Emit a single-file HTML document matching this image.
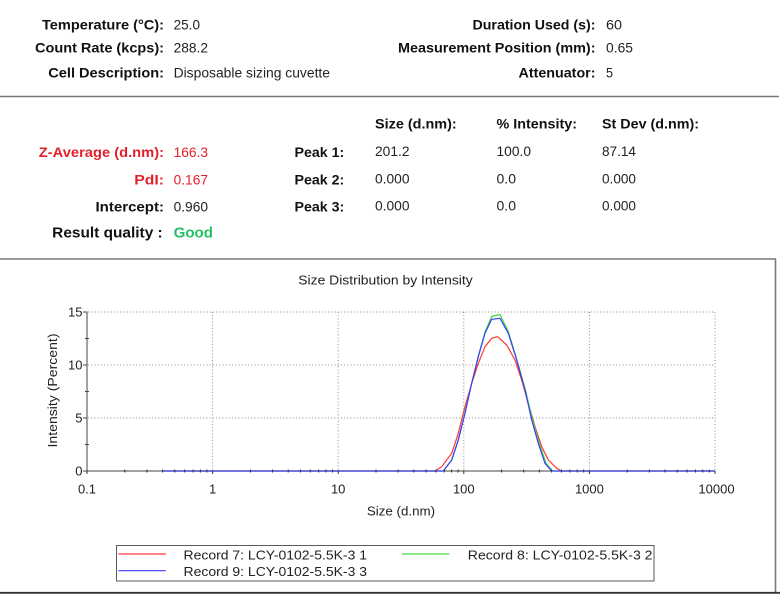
<!DOCTYPE html>
<html>
<head>
<meta charset="utf-8">
<style>
html,body{margin:0;padding:0;background:#fff;}
svg{display:block;}
text{font-family:"Liberation Sans",Arial,sans-serif;}
.b{font-weight:bold;fill:#111;font-size:13.5px;}
.v{fill:#222;font-size:13.5px;}
.r{fill:#e3202a;}
.t{fill:#222;font-size:12.5px;}
</style>
</head>
<body>
<svg width="780" height="594" viewBox="0 0 780 594" xmlns="http://www.w3.org/2000/svg">
<rect x="0" y="0" width="780" height="594" fill="#fff"/>

<!-- Header block -->
<text class="b" x="164" y="29.3" text-anchor="end" textLength="122" lengthAdjust="spacingAndGlyphs">Temperature (°C):</text>
<text class="v" x="173.6" y="29.3" textLength="26.4" lengthAdjust="spacingAndGlyphs">25.0</text>
<text class="b" x="595.5" y="29.3" text-anchor="end" textLength="123" lengthAdjust="spacingAndGlyphs">Duration Used (s):</text>
<text class="v" x="606" y="29.3" textLength="16" lengthAdjust="spacingAndGlyphs">60</text>

<text class="b" x="164" y="52.7" text-anchor="end" textLength="129" lengthAdjust="spacingAndGlyphs">Count Rate (kcps):</text>
<text class="v" x="173.6" y="52.7" textLength="34.4" lengthAdjust="spacingAndGlyphs">288.2</text>
<text class="b" x="595.5" y="52.7" text-anchor="end" textLength="197.5" lengthAdjust="spacingAndGlyphs">Measurement Position (mm):</text>
<text class="v" x="606" y="52.7" textLength="27" lengthAdjust="spacingAndGlyphs">0.65</text>

<text class="b" x="164" y="77.3" text-anchor="end" textLength="115.7" lengthAdjust="spacingAndGlyphs">Cell Description:</text>
<text class="v" x="173.6" y="77.3" textLength="156.4" lengthAdjust="spacingAndGlyphs">Disposable sizing cuvette</text>
<text class="b" x="595.5" y="77.3" text-anchor="end" textLength="77" lengthAdjust="spacingAndGlyphs">Attenuator:</text>
<text class="v" x="606" y="77.3" textLength="7" lengthAdjust="spacingAndGlyphs">5</text>

<line x1="0" y1="96.5" x2="779" y2="96.5" stroke="#7a7a7a" stroke-width="1.6"/>

<!-- Results block -->
<text class="b" x="375" y="128.3" textLength="81.7" lengthAdjust="spacingAndGlyphs">Size (d.nm):</text>
<text class="b" x="496.5" y="128.3" textLength="80.5" lengthAdjust="spacingAndGlyphs">% Intensity:</text>
<text class="b" x="602" y="128.3" textLength="97" lengthAdjust="spacingAndGlyphs">St Dev (d.nm):</text>

<text class="b r" x="164" y="157" text-anchor="end" textLength="125.2" lengthAdjust="spacingAndGlyphs" style="fill:#e3202a">Z-Average (d.nm):</text>
<text class="v r" x="173.6" y="157" textLength="34.4" lengthAdjust="spacingAndGlyphs" style="fill:#e3202a">166.3</text>
<text class="b" x="344.3" y="157" text-anchor="end" textLength="49.8" lengthAdjust="spacingAndGlyphs">Peak 1:</text>
<text class="v" x="375" y="156" textLength="34.5" lengthAdjust="spacingAndGlyphs">201.2</text>
<text class="v" x="496.5" y="156" textLength="34.5" lengthAdjust="spacingAndGlyphs">100.0</text>
<text class="v" x="602" y="156" textLength="34" lengthAdjust="spacingAndGlyphs">87.14</text>

<text class="b" x="164" y="184.3" text-anchor="end" textLength="29.7" lengthAdjust="spacingAndGlyphs" style="fill:#e3202a">PdI:</text>
<text class="v" x="173.6" y="184.3" textLength="34.4" lengthAdjust="spacingAndGlyphs" style="fill:#e3202a">0.167</text>
<text class="b" x="344.3" y="184.3" text-anchor="end" textLength="49.8" lengthAdjust="spacingAndGlyphs">Peak 2:</text>
<text class="v" x="375" y="183.5" textLength="34.5" lengthAdjust="spacingAndGlyphs">0.000</text>
<text class="v" x="496.5" y="183.5" textLength="19.5" lengthAdjust="spacingAndGlyphs">0.0</text>
<text class="v" x="602" y="183.5" textLength="34" lengthAdjust="spacingAndGlyphs">0.000</text>

<text class="b" x="164" y="211.7" text-anchor="end" textLength="68.5" lengthAdjust="spacingAndGlyphs">Intercept:</text>
<text class="v" x="173.6" y="211.7" textLength="34.4" lengthAdjust="spacingAndGlyphs">0.960</text>
<text class="b" x="344.3" y="211.7" text-anchor="end" textLength="49.8" lengthAdjust="spacingAndGlyphs">Peak 3:</text>
<text class="v" x="375" y="210.5" textLength="34.5" lengthAdjust="spacingAndGlyphs">0.000</text>
<text class="v" x="496.5" y="210.5" textLength="19.5" lengthAdjust="spacingAndGlyphs">0.0</text>
<text class="v" x="602" y="210.5" textLength="34" lengthAdjust="spacingAndGlyphs">0.000</text>

<text x="162.7" y="237.5" text-anchor="end" textLength="110.5" lengthAdjust="spacingAndGlyphs" style="font-weight:bold;font-size:15px;fill:#111">Result quality :</text>
<text x="173.6" y="237.5" textLength="39.4" lengthAdjust="spacingAndGlyphs" style="font-weight:bold;font-size:15px;fill:#22c162">Good</text>

<line x1="0" y1="259" x2="776" y2="259" stroke="#7a7a7a" stroke-width="1.6"/>
<line x1="775.5" y1="259" x2="775.5" y2="593" stroke="#7a7a7a" stroke-width="1.6"/>
<line x1="0" y1="592.8" x2="780" y2="592.8" stroke="#333" stroke-width="1.8"/>

<!-- Chart -->
<text class="t" x="298.3" y="284.3" textLength="174.4" lengthAdjust="spacingAndGlyphs" style="font-size:13px">Size Distribution by Intensity</text>

<!-- grid -->
<g stroke="#8a8a8a" stroke-width="1" stroke-dasharray="1 2.2" fill="none">
  <line x1="88" y1="312" x2="715" y2="312"/>
  <line x1="88" y1="365" x2="715" y2="365"/>
  <line x1="88" y1="418" x2="715" y2="418"/>
  <line x1="212.6" y1="312" x2="212.6" y2="470"/>
  <line x1="338.2" y1="312" x2="338.2" y2="470"/>
  <line x1="463.8" y1="312" x2="463.8" y2="470"/>
  <line x1="589.4" y1="312" x2="589.4" y2="470"/>
  <line x1="715" y1="312" x2="715" y2="470"/>
</g>

<!-- axes -->
<g stroke="#444" stroke-width="1">
  <line x1="87" y1="311.5" x2="87" y2="471.5"/>
  <line x1="83" y1="471" x2="715" y2="471"/>
  <line x1="83" y1="312" x2="87" y2="312"/>
  <line x1="83" y1="365" x2="87" y2="365"/>
  <line x1="83" y1="418" x2="87" y2="418"/>
  <line x1="85" y1="444.5" x2="89" y2="444.5"/>
  <line x1="85" y1="391.5" x2="89" y2="391.5"/>
  <line x1="85" y1="338.5" x2="89" y2="338.5"/>
</g>

<!-- curves -->
<g fill="none" stroke-width="1.2" stroke-linejoin="round">
<polyline stroke="#ff3636" points="162.6,471 435,471 441.7,466.7 451.7,453.3 458.3,433.3 465,406.7 471.7,383.3 478.3,363.3 485,346.7 491.7,338.3 497.7,336.7 506.7,345 515,360 521.7,380 528.3,403.3 535,426.7 541.7,446.7 548.3,460 556.7,468.3 561.7,471 715,471"/>
<polyline stroke="#3ddc3d" points="162.6,471 443.3,471 451.7,460 458.3,440 465,413 471.7,383 478.3,356 485,332 491.7,316.5 500,314.5 508.3,331.5 516.7,359 525.5,390 532.5,420 539.3,443.3 546,463.3 552.7,471 715,471"/>
<polyline stroke="#3c3cff" points="162.6,471 443.3,471 451.7,460 458.3,440 465,413.3 471.7,383.3 478.3,356.7 485,333.3 491.7,319.3 500,318.3 508.3,333.3 516.7,360 525,390 531.7,420 538.3,443.3 545,463.3 551.7,471 715,471"/>
</g>

<!-- x minor ticks -->
<g stroke="#333" stroke-width="1">
  <line x1="124.8" y1="469.5" x2="124.8" y2="472.5"/><line x1="146.9" y1="469.5" x2="146.9" y2="472.5"/><line x1="162.6" y1="469.5" x2="162.6" y2="472.5"/><line x1="174.8" y1="469.5" x2="174.8" y2="472.5"/><line x1="184.7" y1="469.5" x2="184.7" y2="472.5"/><line x1="193.1" y1="469.5" x2="193.1" y2="472.5"/><line x1="200.4" y1="469.5" x2="200.4" y2="472.5"/><line x1="206.9" y1="469.5" x2="206.9" y2="472.5"/>
  <line x1="250.4" y1="469.5" x2="250.4" y2="472.5"/><line x1="272.5" y1="469.5" x2="272.5" y2="472.5"/><line x1="288.2" y1="469.5" x2="288.2" y2="472.5"/><line x1="300.4" y1="469.5" x2="300.4" y2="472.5"/><line x1="310.3" y1="469.5" x2="310.3" y2="472.5"/><line x1="318.7" y1="469.5" x2="318.7" y2="472.5"/><line x1="326" y1="469.5" x2="326" y2="472.5"/><line x1="332.5" y1="469.5" x2="332.5" y2="472.5"/>
  <line x1="376" y1="469.5" x2="376" y2="472.5"/><line x1="398.1" y1="469.5" x2="398.1" y2="472.5"/><line x1="413.8" y1="469.5" x2="413.8" y2="472.5"/><line x1="426" y1="469.5" x2="426" y2="472.5"/><line x1="435.9" y1="469.5" x2="435.9" y2="472.5"/><line x1="444.3" y1="469.5" x2="444.3" y2="472.5"/><line x1="451.6" y1="469.5" x2="451.6" y2="472.5"/><line x1="458.1" y1="469.5" x2="458.1" y2="472.5"/>
  <line x1="501.6" y1="469.5" x2="501.6" y2="472.5"/><line x1="523.7" y1="469.5" x2="523.7" y2="472.5"/><line x1="539.4" y1="469.5" x2="539.4" y2="472.5"/><line x1="551.6" y1="469.5" x2="551.6" y2="472.5"/><line x1="561.5" y1="469.5" x2="561.5" y2="472.5"/><line x1="569.9" y1="469.5" x2="569.9" y2="472.5"/><line x1="577.2" y1="469.5" x2="577.2" y2="472.5"/><line x1="583.7" y1="469.5" x2="583.7" y2="472.5"/>
  <line x1="627.2" y1="469.5" x2="627.2" y2="472.5"/><line x1="649.3" y1="469.5" x2="649.3" y2="472.5"/><line x1="665" y1="469.5" x2="665" y2="472.5"/><line x1="677.2" y1="469.5" x2="677.2" y2="472.5"/><line x1="687.1" y1="469.5" x2="687.1" y2="472.5"/><line x1="695.5" y1="469.5" x2="695.5" y2="472.5"/><line x1="702.8" y1="469.5" x2="702.8" y2="472.5"/><line x1="709.3" y1="469.5" x2="709.3" y2="472.5"/>
  <line x1="87" y1="471" x2="87" y2="474"/><line x1="212.6" y1="471" x2="212.6" y2="474"/><line x1="338.2" y1="471" x2="338.2" y2="474"/><line x1="463.8" y1="471" x2="463.8" y2="474"/><line x1="589.4" y1="471" x2="589.4" y2="474"/><line x1="715" y1="471" x2="715" y2="474"/>
</g>

<!-- tick labels -->
<g class="t" style="font-size:13px;fill:#222">
  <text x="82.5" y="316.7" text-anchor="end">15</text>
  <text x="82.5" y="369.7" text-anchor="end">10</text>
  <text x="82.5" y="422.7" text-anchor="end">5</text>
  <text x="82.5" y="475.7" text-anchor="end">0</text>
  <text x="87" y="493.3" text-anchor="middle">0.1</text>
  <text x="212.6" y="493.3" text-anchor="middle">1</text>
  <text x="338.2" y="493.3" text-anchor="middle">10</text>
  <text x="463.8" y="493.3" text-anchor="middle">100</text>
  <text x="589.4" y="493.3" text-anchor="middle">1000</text>
  <text x="716.5" y="493.3" text-anchor="middle">10000</text>
</g>
<text x="401" y="515.5" text-anchor="middle" textLength="68.3" lengthAdjust="spacingAndGlyphs" style="font-size:13px;fill:#222">Size (d.nm)</text>
<text transform="translate(57,390.5) rotate(-90)" x="0" y="0" text-anchor="middle" textLength="114" lengthAdjust="spacingAndGlyphs" style="font-size:13px;fill:#222">Intensity (Percent)</text>

<!-- legend -->
<rect x="116.5" y="545.5" width="537.5" height="35.5" fill="#fff" stroke="#5a5a5a" stroke-width="1"/>
<line x1="118.4" y1="554" x2="165.9" y2="554" stroke="#ff3636" stroke-width="1.2"/>
<text x="183.5" y="559.3" textLength="183.5" lengthAdjust="spacingAndGlyphs" style="font-size:13px;fill:#222">Record 7: LCY-0102-5.5K-3 1</text>
<line x1="402" y1="554" x2="449.4" y2="554" stroke="#3ddc3d" stroke-width="1.2"/>
<text x="467.8" y="559.3" textLength="184.7" lengthAdjust="spacingAndGlyphs" style="font-size:13px;fill:#222">Record 8: LCY-0102-5.5K-3 2</text>
<line x1="118.4" y1="570.7" x2="165.9" y2="570.7" stroke="#3c3cff" stroke-width="1.2"/>
<text x="183.5" y="576" textLength="183.5" lengthAdjust="spacingAndGlyphs" style="font-size:13px;fill:#222">Record 9: LCY-0102-5.5K-3 3</text>
</svg>
</body>
</html>
